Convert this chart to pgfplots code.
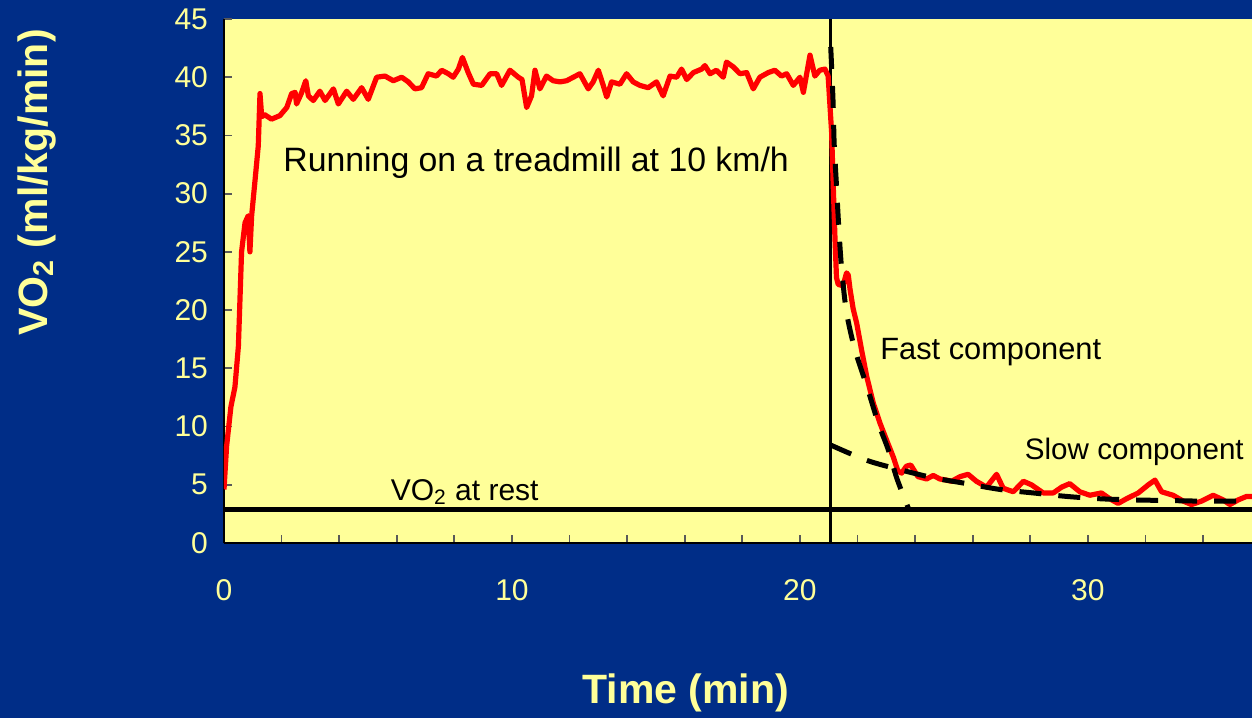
\documentclass[border=0pt]{standalone}
\usepackage{fontspec}
\setmainfont{Liberation Sans}
\usepackage{pgfplots}
\pgfplotsset{compat=1.18}
\definecolor{bgblue}{RGB}{0,45,135}
\definecolor{plotyellow}{RGB}{255,255,153}
\definecolor{labelyellow}{RGB}{255,255,153}

\begin{document}
\begin{tikzpicture}
% slide background
\fill[bgblue] (0,0) rectangle (626pt,359pt);
\begin{axis}[
  at={(112pt,87.5pt)}, anchor=south west,
  scale only axis, width=514pt, height=262pt,
  xmin=0, xmax=35.7, ymin=0, ymax=45,
  axis x line*=bottom, axis y line*=left,
  axis line style={black, line width=1pt},
  axis background/.style={fill=plotyellow},
  xtick={0,10,20,30}, minor xtick={2,4,...,34},
  ytick={0,5,...,45},
  tick align=inside,
  major tick length=4pt, minor tick length=4pt,
  tick style={black!65, line width=0.9pt},
  /pgf/number format/assume math mode=true,
  tick label style={font=\fontsize{15}{18}\selectfont, text=labelyellow},
  xticklabel style={anchor=center, yshift=-23.5pt},
  yticklabel style={xshift=-4.5pt},
  xlabel={Time (min)},
  ylabel={VO\textsubscript{2} (ml/kg/min)},
  label style={font=\fontsize{20.5}{24}\selectfont\bfseries, text=labelyellow},
  xlabel style={at={(axis description cs:0.449,-0.2863)}, anchor=center},
  ylabel style={at={(axis description cs:-0.1819,0.688)}, anchor=center},
]
% end of exercise
\addplot[black, line width=1.3pt] coordinates {(21.07,0) (21.07,45)};
% resting level
\addplot[black, line width=2.7pt] coordinates {(0,2.9) (35.7,2.9)};
% measured VO2
\addplot[red, line width=2.6pt, line join=round] coordinates {
(0.00,4.6) (0.09,8.3) (0.24,11.7) (0.38,13.4) (0.50,16.9) (0.61,25.0)
(0.73,27.5) (0.84,28.1) (0.90,25.0) (0.96,28.1) (1.08,31.2) (1.19,34.1)
(1.25,38.6) (1.31,36.6) (1.40,36.8) (1.65,36.4) (1.94,36.7) (2.18,37.4)
(2.35,38.6) (2.47,38.7) (2.52,37.7) (2.70,38.7) (2.84,39.7) (2.93,38.4)
(3.10,38.0) (3.33,38.8) (3.51,38.0) (3.80,39.0) (3.97,37.7) (4.26,38.8)
(4.49,38.1) (4.78,39.1) (5.01,38.1) (5.30,40.0) (5.59,40.1) (5.88,39.7)
(6.17,40.0) (6.40,39.6) (6.63,39.0) (6.86,39.1) (7.09,40.3) (7.38,40.1)
(7.56,40.6) (7.79,40.3) (7.96,40.0) (8.14,40.7) (8.28,41.7) (8.48,40.4)
(8.66,39.4) (8.95,39.3) (9.24,40.3) (9.47,40.3) (9.64,39.3) (9.93,40.6)
(10.22,40.0) (10.35,39.8) (10.51,37.4) (10.68,38.4) (10.80,40.6) (10.97,39.0)
(11.20,40.1) (11.43,39.7) (11.67,39.6) (11.90,39.7) (12.13,40.0) (12.36,40.3)
(12.65,39.0) (12.82,39.6) (13.00,40.6) (13.17,39.3) (13.29,38.3) (13.46,39.6)
(13.75,39.4) (13.98,40.3) (14.21,39.6) (14.44,39.3) (14.73,39.1) (15.02,39.6)
(15.25,38.4) (15.49,40.1) (15.72,40.0) (15.89,40.7) (16.07,39.8) (16.30,40.4)
(16.59,40.7) (16.70,41.0) (16.88,40.3) (17.10,40.6) (17.34,40.0) (17.45,41.3)
(17.68,40.9) (17.92,40.3) (18.15,40.4) (18.38,39.0) (18.61,40.0) (18.90,40.4)
(19.13,40.6) (19.36,40.1) (19.54,40.3) (19.77,39.3) (20.00,40.0) (20.12,38.7)
(20.35,41.9) (20.52,40.1) (20.69,40.6) (20.87,40.7) (20.98,40.1) (21.10,35.3)
(21.16,30.5) (21.22,26.0) (21.27,22.8) (21.33,22.2) (21.50,22.1) (21.62,23.2)
(21.68,23.0) (21.74,21.8) (21.85,20.1) (21.97,18.9) (22.14,16.6) (22.32,14.3)
(22.55,12.0) (22.78,10.3) (23.00,8.9) (23.24,7.4) (23.40,6.2) (23.53,6.0)
(23.70,6.6) (23.85,6.7) (24.10,5.7) (24.40,5.5) (24.63,5.8) (24.86,5.5)
(25.09,5.4) (25.27,5.3) (25.56,5.7) (25.84,5.9) (26.13,5.3) (26.48,4.8)
(26.83,5.9) (27.06,4.7) (27.41,4.4) (27.76,5.3) (28.04,5.0) (28.45,4.3)
(28.80,4.3) (29.09,4.8) (29.37,5.1) (29.72,4.4) (30.07,4.1) (30.47,4.3)
(30.76,3.8) (31.05,3.4) (31.34,3.8) (31.75,4.3) (32.10,5.0) (32.33,5.4)
(32.56,4.4) (32.96,4.1) (33.31,3.6) (33.60,3.3) (33.95,3.6) (34.35,4.1)
(34.70,3.7) (34.93,3.3) (35.22,3.7) (35.51,4.0) (35.80,4.0)
};
% fast component fit
\addplot[black, line width=2.5pt, dash pattern=on 11pt off 8.5pt, smooth] coordinates {
(21.07,42.6) (21.15,38.0) (21.19,34.3) (21.27,30.7) (21.35,27.1) (21.45,23.5)
(21.62,19.8) (21.91,16.6) (22.32,13.5) (22.72,10.3) (23.07,8.0) (23.36,5.6)
(23.70,3.4) (23.80,2.8)
};
% slow component fit
\addplot[black, line width=2.5pt, dash pattern=on 11pt off 8.5pt, smooth] coordinates {
(21.08,8.4) (22.32,7.1) (23.47,6.3) (24.63,5.6) (25.79,5.1) (26.94,4.6)
(28.10,4.3) (29.26,4.0) (30.42,3.8) (31.57,3.7) (32.73,3.65) (33.90,3.6)
(35.80,3.6)
};
\node[anchor=base west, inner sep=0pt, font=\fontsize{16.9}{20}\selectfont] at (axis cs:2.05,31.9) {Running on a treadmill at 10 km/h};
\node[anchor=base west, inner sep=0pt, font=\fontsize{15.4}{18}\selectfont] at (axis cs:22.78,15.8) {Fast component};
\node[anchor=base west, inner sep=0pt, font=\fontsize{14.8}{18}\selectfont] at (axis cs:27.8,7.13) {Slow component};
\node[anchor=base west, inner sep=0pt, font=\fontsize{15}{18}\selectfont] at (axis cs:5.78,3.69) {VO\textsubscript{2} at rest};
\end{axis}
\pgfresetboundingbox
\path[use as bounding box] (0,0) rectangle (626pt,359pt);
\end{tikzpicture}
\end{document}
